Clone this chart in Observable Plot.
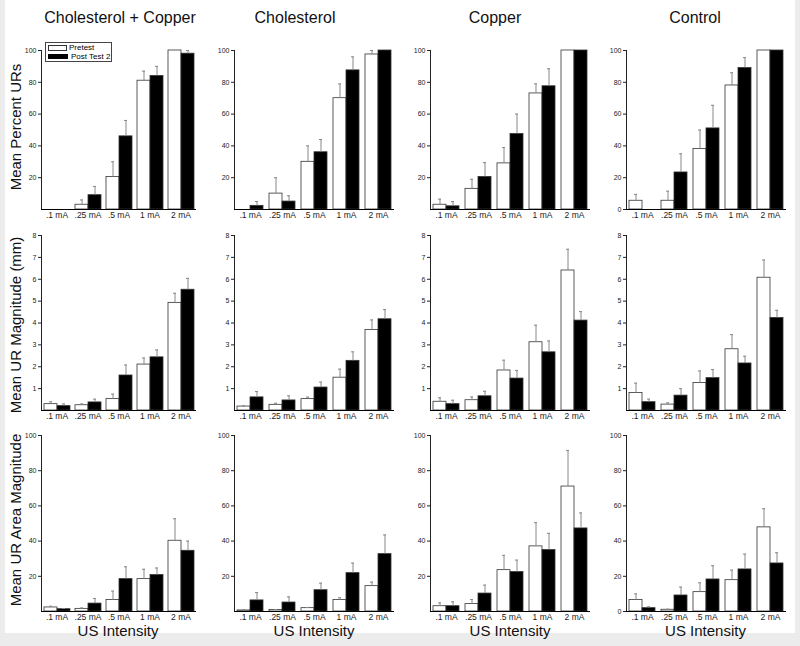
<!DOCTYPE html>
<html><head><meta charset="utf-8">
<script src="https://cdn.jsdelivr.net/npm/d3@7"></script>
<script src="https://cdn.jsdelivr.net/npm/@observablehq/plot@0.6"></script>
<style>
body{margin:0;background:#ececec;width:800px;height:646px;overflow:hidden;font-family:"Liberation Sans",Arial,Helvetica,sans-serif;}
#bg{position:absolute;left:5px;top:0;width:790px;height:633px;background:#fff;}
.abs{position:absolute;white-space:nowrap;color:#111;}
.title{font-size:16px;transform:translate(-50%,-50%);}
.ylab{font-size:15px;transform:translate(-50%,-50%) rotate(-90deg);}
.xlab{font-size:15px;line-height:15px;transform:translate(-50%,-50%);}
#legend{position:absolute;left:45px;top:42px;width:65px;height:18px;border:1px solid #444;background:#fff;font-size:8px;}
#legend .sw{position:absolute;left:2px;width:18px;height:5px;}
#legend .tx{position:absolute;line-height:8px;}
</style>
</head><body>
<div id="bg"></div>
<div id="root"></div>
<script>
// ---- data ----
const intensities = [".1 mA", ".25 mA", ".5 mA", "1 mA", "2 mA"];
const groups = ["Cholesterol + Copper", "Cholesterol", "Copper", "Control"];
const series = ["Pretest", "Post Test 2"];
const yLabels = ["Mean Percent URs", "Mean UR Magnitude (mm)", "Mean UR Area Magnitude"];

// Mean Percent URs (rows = groups, cols = intensities)
const percentPre = [[0, 3, 20.5, 81, 100], [0, 10, 30, 70, 97.5], [3, 13, 29, 73, 100], [5.5, 5.5, 38, 78, 100]];
const percentPreSem = [[0, 3, 9.5, 6, 0], [0, 10, 10, 9, 2.5], [3.5, 6, 10, 6, 0], [4, 6, 12, 8, 0]];
const percentPost = [[0, 9, 46, 84, 98], [2.3, 5, 36, 87.5, 100], [2, 20.5, 47.5, 77.5, 100], [0, 23.3, 51, 89, 100]];
const percentPostSem = [[0, 5.5, 10, 6, 2], [2.7, 3.6, 8, 8.5, 0], [3, 9, 12.5, 11, 0], [0, 11.7, 14.5, 6.5, 0]];

// Mean UR Magnitude (mm)
const magnitudePre = [[0.29, 0.24, 0.52, 2.1, 4.92], [0.18, 0.26, 0.52, 1.5, 3.68], [0.4, 0.47, 1.83, 3.12, 6.4], [0.8, 0.27, 1.26, 2.8, 6.07]];
const magnitudePreSem = [[0.11, 0.06, 0.23, 0.3, 0.44], [0.03, 0.07, 0.09, 0.39, 0.46], [0.18, 0.15, 0.47, 0.78, 0.97], [0.45, 0.08, 0.55, 0.67, 0.81]];
const magnitudePost = [[0.2, 0.37, 1.6, 2.43, 5.52], [0.6, 0.46, 1.05, 2.27, 4.17], [0.29, 0.65, 1.46, 2.66, 4.11], [0.38, 0.68, 1.48, 2.15, 4.23]];
const magnitudePostSem = [[0.1, 0.15, 0.48, 0.34, 0.52], [0.27, 0.21, 0.25, 0.41, 0.44], [0.18, 0.23, 0.37, 0.52, 0.41], [0.14, 0.32, 0.39, 0.33, 0.35]];

// Mean UR Area Magnitude
const areaPre = [[2.3, 1.5, 6.5, 18.4, 40.2], [0.6, 0.8, 1.9, 6.5, 14.4], [3, 4.2, 23.5, 37, 71], [6.5, 1, 11, 17.8, 47.8]];
const areaPreSem = [[0.7, 0.5, 5.1, 5.6, 12.5], [0.4, 0.3, 0.4, 1.3, 2.3], [1.9, 2.6, 8.4, 13.5, 20.5], [3.5, 0.3, 5.3, 5.7, 10.6]];
const areaPost = [[1.3, 4.5, 18.4, 20.7, 34.5], [6.3, 5.1, 12.1, 21.8, 32.6], [3, 10.2, 22.4, 34.9, 47.2], [1.9, 9.1, 18.2, 23.9, 27.3]];
const areaPostSem = [[0.4, 2.9, 7, 4, 5.5], [4.5, 3.2, 4, 5.7, 10.9], [2.5, 4.8, 6.8, 9.5, 8.8], [0.8, 4.8, 7.8, 8.7, 6.1]];

// axis ticks
const percentTicks = [20, 40, 60, 80, 100];
const percentTicksControl = [0, 20, 40, 60, 80, 100];
const magnitudeTicks = [1, 2, 3, 4, 5, 6, 7, 8];
const areaTicks = [20, 40, 60, 80, 100];
const areaTicksControl = [0, 20, 40, 60, 80, 100];

// ---- assembly ----
const preMeans = [percentPre, magnitudePre, areaPre];
const preSems = [percentPreSem, magnitudePreSem, areaPreSem];
const postMeans = [percentPost, magnitudePost, areaPost];
const postSems = [percentPostSem, magnitudePostSem, areaPostSem];
const yDomains = [[0, 100], [0, 8], [0, 100]];
const tickSets = [[percentTicks, percentTicksControl], [magnitudeTicks, magnitudeTicks], [areaTicks, areaTicksControl]];

const plotLeft = [39, 233, 428, 624];
const plotWidth = [158, 162, 164, 163];
const plotTop = [50, 235, 435];
const plotHeight = [159, 175, 176];
const ML = 26, MR = 2, MT = 6, MB = 14;
const FONT = '"Liberation Sans", Arial, Helvetica, sans-serif';
const root = document.getElementById("root");

function addText(cls, text, x, y) {
  const d = document.createElement("div");
  d.className = "abs " + cls;
  d.textContent = text;
  d.style.left = x + "px";
  d.style.top = y + "px";
  root.appendChild(d);
}

for (let r = 0; r < 3; r++) {
  for (let c = 0; c < 4; c++) {
    const rows = [];
    intensities.forEach((t, i) => {
      const pv = preMeans[r][c][i], qv = postMeans[r][c][i];
      rows.push({intensity: t, series: series[0], value: pv, top: pv + preSems[r][c][i]});
      rows.push({intensity: t, series: series[1], value: qv, top: qv + postSems[r][c][i]});
    });
    const pw = plotWidth[c], ph = plotHeight[r];
    const chart = Plot.plot({
      width: ML + pw + MR,
      height: MT + ph + MB,
      marginLeft: ML, marginRight: MR, marginTop: MT, marginBottom: MB,
      style: {fontFamily: FONT, fontSize: "7px", color: "#222", background: "transparent", overflow: "visible"},
      facet: {data: rows, x: "intensity"},
      fx: {domain: intensities, padding: 0, axis: "bottom", tickSize: 0, tickPadding: 2, label: null},
      x: {domain: series, axis: null, paddingInner: 0, paddingOuter: 0.19},
      y: {domain: yDomains[r], ticks: tickSets[r][c === 3 ? 1 : 0], tickSize: 3, tickPadding: 2, line: true, label: null, tickFormat: d => String(d)},
      color: {domain: series, range: ["#ffffff", "#000000"]},
      marks: [
        Plot.barY(rows, {x: "series", y: "value", fill: "series", stroke: "#333", strokeWidth: 0.8, filter: d => d.value > 0}),
        Plot.ruleX(rows, {x: "series", y1: "value", y2: "top", stroke: "#888", strokeWidth: 1, filter: d => d.top > d.value}),
        Plot.tickY(rows, {x: "series", y: "top", stroke: "#888", strokeWidth: 1, insetLeft: 5, insetRight: 5, filter: d => d.top > d.value}),
        Plot.ruleY([0], {stroke: "#000", strokeWidth: 1})
      ]
    });
    chart.querySelectorAll('g[aria-label^="fx-axis"]').forEach(g => { g.style.fontSize = "8.5px"; });
    chart.style.position = "absolute";
    chart.style.left = (plotLeft[c] - ML) + "px";
    chart.style.top = (plotTop[r] - MT) + "px";
    root.appendChild(chart);
  }
}

// titles, axis labels
const titleX = [120, 295, 495, 695];
groups.forEach((g, c) => addText("title", g, titleX[c], 18));
const yLabelY = [127, 325, 520];
yLabels.forEach((l, r) => addText("ylab", l, 15, yLabelY[r]));
groups.forEach((g, c) => addText("xlab", "US Intensity", plotLeft[c] + plotWidth[c] / 2, 630));

// legend
const legend = document.createElement("div");
legend.id = "legend";
legend.innerHTML =
  '<div class="sw" style="top:2px;background:#fff;border:1px solid #333;width:17px;height:4px"></div>' +
  '<div class="tx" style="left:23px;top:1px">' + series[0] + '</div>' +
  '<div class="sw" style="top:11px;background:#000;width:20px"></div>' +
  '<div class="tx" style="left:25px;top:10px">' + series[1] + '</div>';
root.appendChild(legend);
</script>
</body></html>
